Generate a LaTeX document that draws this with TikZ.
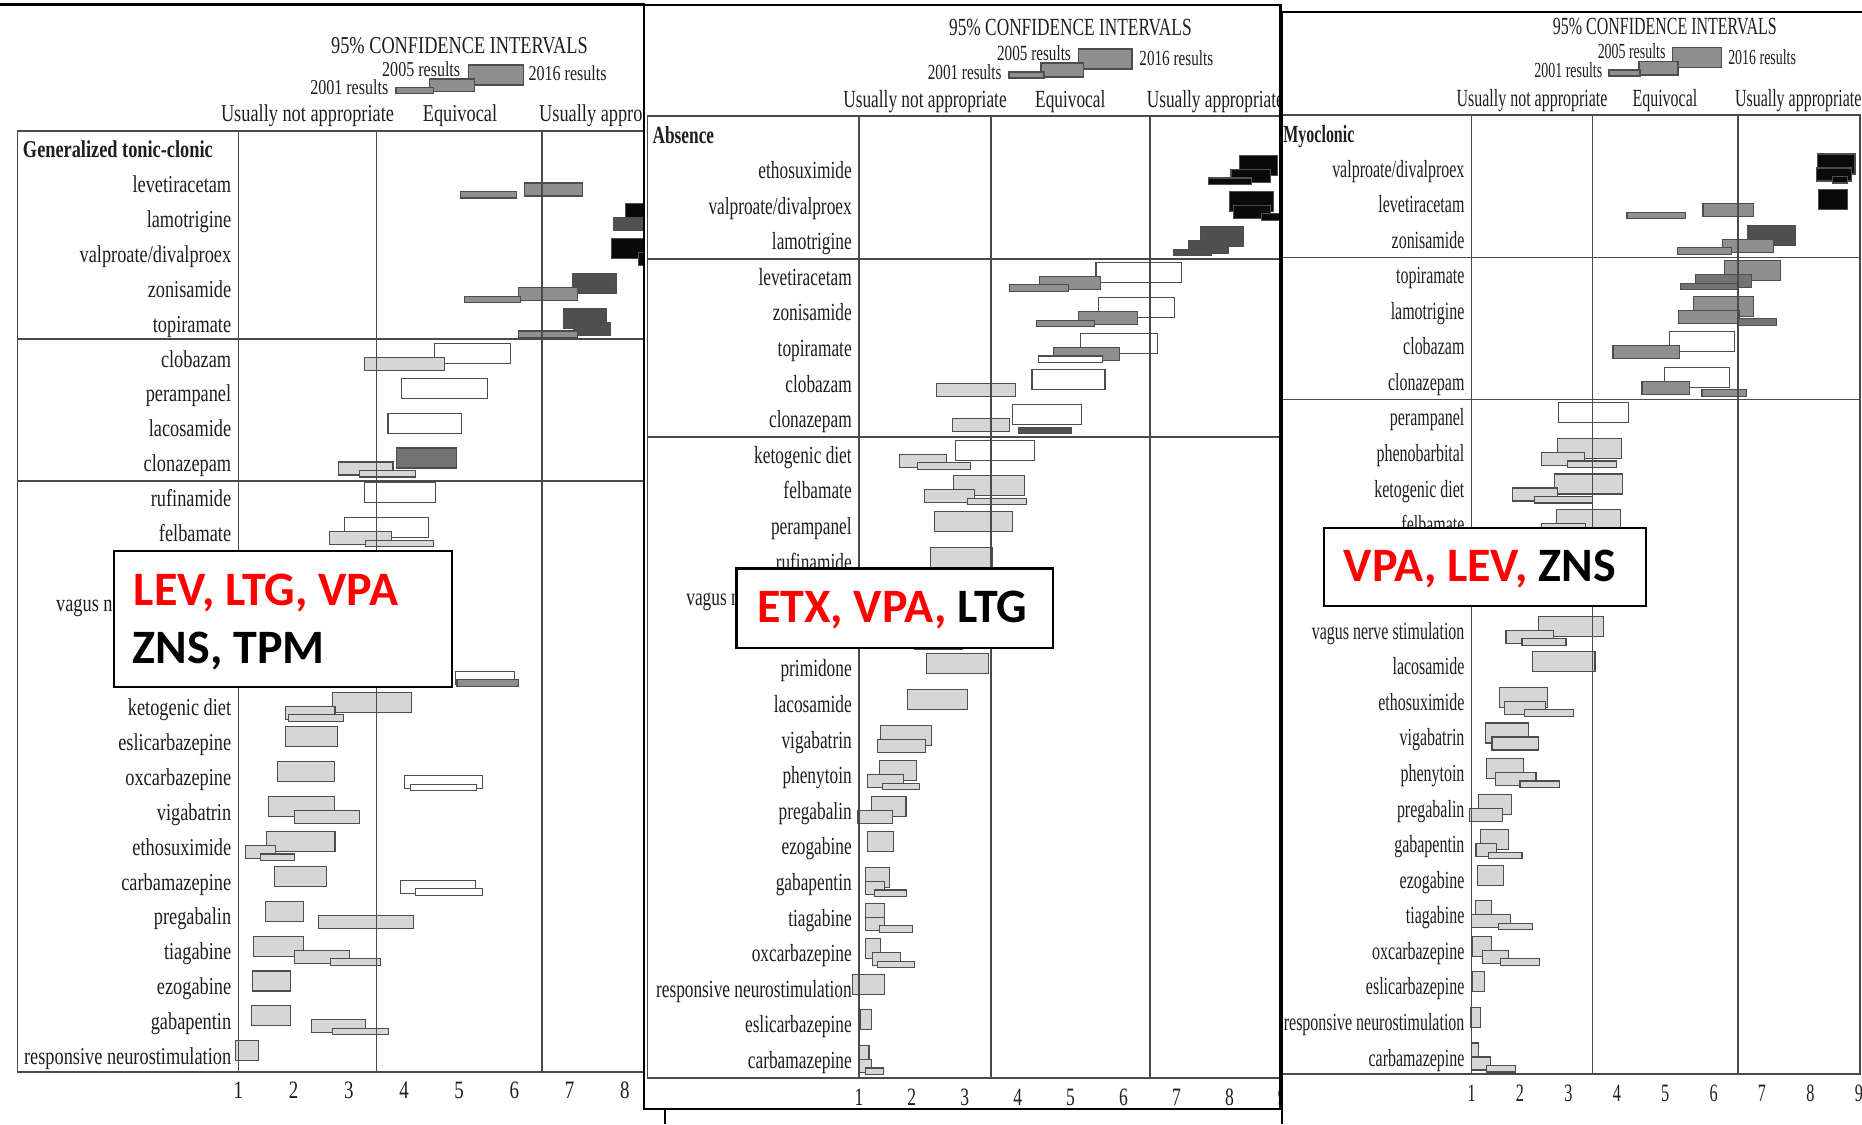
\documentclass[tikz,border=0pt]{standalone}
\usepackage{fontspec}
\setmainfont{Liberation Serif}
\newfontfamily\fA[FakeStretch=0.757]{Liberation Serif}
\newfontfamily\fB[FakeStretch=0.702]{Liberation Serif}
\newfontfamily\fC[FakeStretch=0.648]{Liberation Serif}
\newfontfamily\ovfont{Carlito}
\definecolor{txt}{HTML}{1E1E1E}
\definecolor{grid}{HTML}{4A4A4A}
\definecolor{baredge}{HTML}{4D4D4D}
\definecolor{blk}{HTML}{0A0A0A}
\definecolor{dk}{HTML}{505050}
\definecolor{mdk}{HTML}{737373}
\definecolor{md}{HTML}{8F8F8F}
\definecolor{lt}{HTML}{D6D6D6}
\definecolor{ovred}{HTML}{FF0000}
\tikzset{
 lbl/.style={anchor=base east, inner sep=0pt, text=txt},
 hd/.style={anchor=base, inner sep=0pt, text=txt},
 hdw/.style={anchor=base west, inner sep=0pt, text=txt},
 barl/.style={draw=baredge, line width=1.1pt},
 gridl/.style={draw=grid, line width=1.6pt},
 frame/.style={draw=black, line width=2.2pt},
 ovbox/.style={draw=black, line width=2.4pt, fill=white},
 ovtxt/.style={anchor=base west, inner sep=0pt, font=\ovfont\bfseries\fontsize{48}{48}\selectfont},
}
\newcommand\dlab[3]{\node[lbl] (#1) at ({\PXo-7},{\PYl+\PYd*(#2-1)}) {#3};}
\newcommand\bA[4]{\draw[barl,fill=#4] ({\PXo+\PXs*(#2-1)},{\PYb+\PYd*(#1-1)-16}) rectangle ({\PXo+\PXs*(#3-1)},{\PYb+\PYd*(#1-1)+4});}
\newcommand\bB[4]{\draw[barl,fill=#4] ({\PXo+\PXs*(#2-1)},{\PYb+\PYd*(#1-1)-2}) rectangle ({\PXo+\PXs*(#3-1)},{\PYb+\PYd*(#1-1)+11});}
\newcommand\bC[4]{\draw[barl,fill=#4] ({\PXo+\PXs*(#2-1)},{\PYb+\PYd*(#1-1)+6.5}) rectangle ({\PXo+\PXs*(#3-1)},{\PYb+\PYd*(#1-1)+13});}
\begin{document}
\begin{tikzpicture}[x=1pt,y=-1pt]
\useasboundingbox (0,0) rectangle (1862,1124);
\fill[white] (0,0) rectangle (1862,1124);

%%%%%%%%%%%%%%%% PANEL 1
\begin{scope}[every node/.append style={font=\fA\fontsize{24.2}{24.2}\selectfont}]
\def\PXo{238.4}\def\PXs{55.2}\def\PYb{185}\def\PYl{192.7}\def\PYd{34.87}
\draw[frame] (0,4.5) -- (645,4.5);
\node[hd] (p1title) at (459.5,53.3) {95\% CONFIDENCE INTERVALS};
\node[hd,font=\fA\fontsize{21.2}{21.2}\selectfont] (p1l05) at (421.2,76) {2005 results};
\node[hd,font=\fA\fontsize{21.2}{21.2}\selectfont] (p1l16) at (567.6,81) {2016 results};
\node[hd,font=\fA\fontsize{21.2}{21.2}\selectfont] (p1l01) at (349.3,94) {2001 results};
\draw[barl,fill=md] (468.5,65) rectangle (523.2,85);
\draw[barl,fill=md] (429.1,79) rectangle (474.7,91.7);
\draw[barl,fill=md] (396,87.3) rectangle (433.3,93.3);
\node[hd] (p1c1) at (307.5,121.7) {Usually not appropriate};
\node[hd] (p1c2) at (460,121.7) {Equivocal};
\node[hdw] (p1c3) at (539,121.7) {Usually appropriate};
% bars
\bB{1}{6.19}{7.24}{md} \bC{1}{5.02}{6.03}{md}
\bA{2}{8.02}{9}{blk} \bB{2}{7.80}{9}{dk}
\bA{3}{7.76}{9}{blk} \bB{3}{8.24}{9}{blk}
\bA{4}{7.06}{7.84}{dk} \bB{4}{6.07}{7.15}{md} \bC{4}{5.10}{6.11}{md}
\bA{5}{6.89}{7.66}{dk} \bB{5}{7.08}{7.74}{dk} \bC{5}{6.07}{7.15}{md}
\bA{6}{4.55}{5.93}{white} \bB{6}{3.29}{4.73}{lt}
\bA{7}{3.95}{5.51}{white}
\bA{8}{3.71}{5.04}{white}
\bA{9}{3.86}{4.95}{mdk} \bB{9}{2.82}{3.80}{lt} \bC{9}{3.20}{4.21}{lt}
\bA{10}{3.28}{4.57}{white}
\bA{11}{2.93}{4.44}{white} \bB{11}{2.65}{3.78}{lt} \bC{11}{3.31}{4.53}{lt}
\bB{15}{4.94}{6.00}{white} \bC{15}{4.96}{6.07}{md}
\bA{16}{2.71}{4.13}{lt} \bB{16}{1.86}{2.75}{lt} \bC{16}{1.90}{2.91}{lt}
\bA{17}{1.86}{2.80}{lt}
\bA{18}{1.71}{2.74}{lt} \bB{18}{4.01}{5.42}{white} \bC{18}{4.12}{5.32}{white}
\bA{19}{1.54}{2.74}{lt} \bB{19}{2.01}{3.20}{lt}
\bA{20}{1.51}{2.75}{lt} \bB{20}{1.13}{1.68}{lt} \bC{20}{1.40}{2.02}{lt}
\bA{21}{1.65}{2.60}{lt} \bB{21}{3.93}{5.29}{white} \bC{21}{4.21}{5.42}{white}
\bA{22}{1.49}{2.18}{lt} \bB{22}{2.45}{4.18}{lt}
\bA{23}{1.28}{2.18}{lt} \bB{23}{2.01}{3.01}{lt} \bC{23}{2.67}{3.57}{lt}
\bA{24}{1.25}{1.94}{lt}
\bA{25}{1.24}{1.95}{lt} \bB{25}{2.32}{3.31}{lt} \bC{25}{2.71}{3.72}{lt}
\bA{26}{0.95}{1.37}{lt}
% table
\draw[gridl] (17.4,130.7) rectangle (680,1072);
\draw[gridl] (17.4,339) -- (680,339);
\draw[gridl] (17.4,481) -- (680,481);
\foreach \v in {1,3.5,6.5} \draw[gridl] ({\PXo+\PXs*(\v-1)},130.7) -- ({\PXo+\PXs*(\v-1)},1072);
\node[hdw,font=\fA\bfseries\fontsize{24.2}{24.2}\selectfont] (p1g) at (22.8,157.3) {Generalized tonic-clonic};
\dlab{p1r1}{1}{levetiracetam}
\dlab{p1r2}{2}{lamotrigine}
\dlab{p1r3}{3}{valproate/divalproex}
\dlab{p1r4}{4}{zonisamide}
\dlab{p1r5}{5}{topiramate}
\dlab{p1r6}{6}{clobazam}
\dlab{p1r7}{7}{perampanel}
\dlab{p1r8}{8}{lacosamide}
\dlab{p1r9}{9}{clonazepam}
\dlab{p1r10}{10}{rufinamide}
\dlab{p1r11}{11}{felbamate}
\dlab{p1r13}{13}{vagus nerve stimulation}
\dlab{p1r16}{16}{ketogenic diet}
\dlab{p1r17}{17}{eslicarbazepine}
\dlab{p1r18}{18}{oxcarbazepine}
\dlab{p1r19}{19}{vigabatrin}
\dlab{p1r20}{20}{ethosuximide}
\dlab{p1r21}{21}{carbamazepine}
\dlab{p1r22}{22}{pregabalin}
\dlab{p1r23}{23}{tiagabine}
\dlab{p1r24}{24}{ezogabine}
\dlab{p1r25}{25}{gabapentin}
\dlab{p1r26}{26}{responsive neurostimulation}
\foreach \v in {1,...,9} \node[hd,font=\fA\fontsize{25}{25}\selectfont] (p1t\v) at ({\PXo+\PXs*(\v-1)},1098.3) {\v};
% overlay box
\node[ovbox,minimum width=337.9pt,minimum height=135.7pt,inner sep=0pt,anchor=north west] (ov1) at (112.8,550) {};
\node[ovtxt,text=ovred] (ov1a) at (133.5,605) {LEV, LTG, VPA};
\node[ovtxt,text=black] (ov1b) at (132.7,663.3) {ZNS, TPM};
\end{scope}

%%%%%%%%%%%%%%%% PANEL 2
\begin{scope}[every node/.append style={font=\fB\fontsize{24.65}{24.65}\selectfont}]
\def\PXo{858.9}\def\PXs{52.93}\def\PYb{171.5}\def\PYl{178.5}\def\PYd{35.6}
\fill[white] (644,5) rectangle (1281,1109);
\node[hd] (p2title) at (1070.4,36) {95\% CONFIDENCE INTERVALS};
\node[hd,font=\fB\fontsize{21.6}{21.6}\selectfont] (p2l05) at (1034,60) {2005 results};
\node[hd,font=\fB\fontsize{21.6}{21.6}\selectfont] (p2l16) at (1176.3,66) {2016 results};
\node[hd,font=\fB\fontsize{21.6}{21.6}\selectfont] (p2l01) at (964.7,79) {2001 results};
\draw[barl,fill=md] (1078.6,49) rectangle (1132,69);
\draw[barl,fill=md] (1041,63) rectangle (1083.6,77);
\draw[barl,fill=md] (1009,72) rectangle (1044,78);
\node[hd] (p2c1) at (925,107.3) {Usually not appropriate};
\node[hd] (p2c2) at (1070.3,107.3) {Equivocal};
\node[hdw] (p2c3) at (1146.6,107.3) {Usually appropriate};
% bars
\bA{1}{8.19}{8.90}{blk} \bB{1}{8.03}{8.77}{blk} \bC{1}{7.60}{8.42}{blk}
\bA{2}{8.00}{8.84}{blk} \bB{2}{8.07}{8.77}{blk} \bC{2}{8.60}{9.00}{blk}
\bA{3}{7.45}{8.26}{dk} \bB{3}{7.22}{7.99}{dk} \bC{3}{6.95}{7.66}{dk}
\bA{4}{5.48}{7.10}{white} \bB{4}{4.42}{5.57}{md} \bC{4}{3.85}{4.96}{md}
\bA{5}{5.52}{6.97}{white} \bB{5}{5.15}{6.26}{md} \bC{5}{4.35}{5.45}{md}
\bA{6}{5.18}{6.64}{white} \bB{6}{4.68}{5.93}{md} \bC{6}{4.40}{5.61}{white}
\bA{7}{4.27}{5.65}{white} \bB{7}{2.46}{3.95}{lt}
\bA{8}{3.90}{5.21}{white} \bB{8}{2.76}{3.84}{lt} \bC{8}{4.01}{5.01}{dk}
\bA{9}{2.83}{4.31}{white} \bB{9}{1.76}{2.65}{lt} \bC{9}{2.10}{3.11}{lt}
\bA{10}{2.79}{4.13}{lt} \bB{10}{2.24}{3.18}{lt} \bC{10}{3.05}{4.16}{lt}
\bA{11}{2.43}{3.91}{lt}
\bA{12}{2.35}{3.52}{lt}
\draw[barl,fill=lt] ({\PXo+\PXs*1.05},634) rectangle ({\PXo+\PXs*1.95},649);
\bA{15}{2.28}{3.44}{lt}
\bA{16}{1.92}{3.06}{lt}
\bA{17}{1.41}{2.37}{lt} \bB{17}{1.35}{2.26}{lt}
\bA{18}{1.39}{2.09}{lt} \bB{18}{1.16}{1.85}{lt} \bC{18}{1.45}{2.15}{lt}
\bA{19}{1.23}{1.89}{lt} \bB{19}{0.98}{1.63}{lt}
\bA{20}{1.16}{1.66}{lt}
\bA{21}{1.12}{1.58}{lt} \bB{21}{1.12}{1.49}{lt} \bC{21}{1.30}{1.90}{lt}
\bA{22}{1.12}{1.49}{lt} \bB{22}{1.12}{1.49}{lt} \bC{22}{1.39}{2.01}{lt}
\bA{23}{1.12}{1.41}{lt} \bB{23}{1.25}{1.78}{lt} \bC{23}{1.35}{2.05}{lt}
\bA{24}{0.88}{1.49}{lt}
\bA{25}{1.02}{1.23}{lt}
\bA{26}{1.00}{1.19}{lt} \bB{26}{1.00}{1.23}{lt} \bC{26}{1.13}{1.46}{lt}
% table
\draw[gridl] (647.5,116) rectangle (1281,1078);
\draw[gridl] (647.5,259) -- (1281,259);
\draw[gridl] (647.5,437) -- (1281,437);
\foreach \v in {1,3.5,6.5} \draw[gridl] ({\PXo+\PXs*(\v-1)},116) -- ({\PXo+\PXs*(\v-1)},1078);
\node[hdw,font=\fB\bfseries\fontsize{24.65}{24.65}\selectfont] (p2g) at (652.4,143.3) {Absence};
\dlab{p2r1}{1}{ethosuximide}
\dlab{p2r2}{2}{valproate/divalproex}
\dlab{p2r3}{3}{lamotrigine}
\dlab{p2r4}{4}{levetiracetam}
\dlab{p2r5}{5}{zonisamide}
\dlab{p2r6}{6}{topiramate}
\dlab{p2r7}{7}{clobazam}
\dlab{p2r8}{8}{clonazepam}
\dlab{p2r9}{9}{ketogenic diet}
\dlab{p2r10}{10}{felbamate}
\dlab{p2r11}{11}{perampanel}
\dlab{p2r12}{12}{rufinamide}
\dlab{p2r13}{13}{vagus nerve stimulation}
\dlab{p2r15}{15}{primidone}
\dlab{p2r16}{16}{lacosamide}
\dlab{p2r17}{17}{vigabatrin}
\dlab{p2r18}{18}{phenytoin}
\dlab{p2r19}{19}{pregabalin}
\dlab{p2r20}{20}{ezogabine}
\dlab{p2r21}{21}{gabapentin}
\dlab{p2r22}{22}{tiagabine}
\dlab{p2r23}{23}{oxcarbazepine}
\dlab{p2r24}{24}{responsive neurostimulation}
\dlab{p2r25}{25}{eslicarbazepine}
\dlab{p2r26}{26}{carbamazepine}
\foreach \v in {1,...,9} \node[hd,font=\fB\fontsize{25}{25}\selectfont] (p2t\v) at ({\PXo+\PXs*(\v-1)},1105) {\v};
\node[ovbox,minimum width=316.3pt,minimum height=79.4pt,inner sep=0pt,anchor=north west] (ov2) at (735.4,567.3) {};
\node[ovtxt] (ov2a) at (756.9,622.7) {\textcolor{ovred}{ETX, VPA,} LTG};
\draw[frame] (644,5) rectangle (1280.5,1109);
\draw[frame] (665,1109) -- (665,1124);
\end{scope}

%%%%%%%%%%%%%%%% PANEL 3
\begin{scope}[every node/.append style={font=\fC\fontsize{24.65}{24.65}\selectfont}]
\def\PXo{1471.6}\def\PXs{48.4}\def\PYb{170}\def\PYl{177}\def\PYd{35.56}
\fill[white] (1281.7,11.7) rectangle (1862,1124);
\node[hd] (p3title) at (1664.8,35) {95\% CONFIDENCE INTERVALS};
\node[hd,font=\fC\fontsize{21.5}{21.5}\selectfont] (p3l05) at (1631.6,59) {2005 results};
\node[hd,font=\fC\fontsize{21.5}{21.5}\selectfont] (p3l16) at (1762.1,65) {2016 results};
\node[hd,font=\fC\fontsize{21.5}{21.5}\selectfont] (p3l01) at (1568.3,77.7) {2001 results};
\draw[barl,fill=md] (1672.6,47.7) rectangle (1721.3,67.7);
\draw[barl,fill=md] (1639,61.7) rectangle (1678,75);
\draw[barl,fill=md] (1609,70) rectangle (1640,76);
\node[hd] (p3c1) at (1532,106) {Usually not appropriate};
\node[hd] (p3c2) at (1664.9,106) {Equivocal};
\node[hdw] (p3c3) at (1734.8,106) {Usually appropriate};
% bars
\bA{1}{8.14}{8.92}{blk} \bB{1}{8.12}{8.85}{blk} \bC{1}{8.46}{8.77}{blk}
\bA{2}{8.17}{8.76}{blk} \bB{2}{5.78}{6.82}{md} \bC{2}{4.21}{5.41}{md}
\bA{3}{6.70}{7.69}{dk} \bB{3}{6.18}{7.23}{md} \bC{3}{5.25}{6.37}{md}
\bA{4}{6.22}{7.38}{md} \bB{4}{5.62}{6.79}{mdk} \bC{4}{5.31}{6.51}{mdk}
\bA{5}{5.58}{6.82}{md} \bB{5}{5.27}{6.53}{md} \bC{5}{6.50}{7.30}{mdk}
\bA{6}{5.08}{6.44}{white} \bB{6}{3.92}{5.29}{md}
\bA{7}{4.98}{6.32}{white} \bB{7}{4.52}{5.50}{md} \bC{7}{5.76}{6.67}{md}
\bA{8}{2.79}{4.25}{white}
\bA{9}{2.78}{4.09}{lt} \bB{9}{2.45}{3.34}{lt} \bC{9}{2.99}{4.00}{lt}
\bA{10}{2.72}{4.12}{lt} \bB{10}{1.84}{2.77}{lt} \bC{10}{2.30}{3.50}{lt}
\bA{11}{2.75}{4.08}{lt} \bB{11}{2.45}{3.35}{lt}
\bA{14}{2.38}{3.73}{lt} \bB{14}{1.71}{2.69}{lt} \bC{14}{2.04}{2.95}{lt}
\bA{15}{2.25}{3.55}{lt}
\bA{16}{1.58}{2.56}{lt} \bB{16}{1.67}{2.53}{lt} \bC{16}{2.10}{3.10}{lt}
\bA{17}{1.29}{2.18}{lt} \bB{17}{1.42}{2.38}{lt}
\bA{18}{1.31}{2.07}{lt} \bB{18}{1.49}{2.33}{lt} \bC{18}{2.00}{2.82}{lt}
\bA{19}{1.14}{1.83}{lt} \bB{19}{0.96}{1.64}{lt}
\bA{20}{1.18}{1.76}{lt} \bB{20}{1.09}{1.52}{lt} \bC{20}{1.35}{2.04}{lt}
\bA{21}{1.12}{1.66}{lt}
\bA{22}{1.08}{1.41}{lt} \bB{22}{1.00}{1.80}{lt} \bC{22}{1.56}{2.25}{lt}
\bA{23}{1.01}{1.41}{lt} \bB{23}{1.23}{1.77}{lt} \bC{23}{1.60}{2.41}{lt}
\bA{24}{1.01}{1.27}{lt}
\bA{25}{0.98}{1.18}{lt}
\bA{26}{1.00}{1.15}{lt} \bB{26}{1.00}{1.39}{lt} \bC{26}{1.31}{1.91}{lt}
% table
\draw[gridl] (1281.7,115) rectangle (1859.8,1074);
\draw[gridl] (1281.7,257.3) -- (1859.8,257.3);
\draw[gridl] (1281.7,399.3) -- (1859.8,399.3);
\foreach \v in {1,3.5,6.5} \draw[gridl] ({\PXo+\PXs*(\v-1)},115) -- ({\PXo+\PXs*(\v-1)},1074);
\node[hdw,font=\fC\bfseries\fontsize{24.65}{24.65}\selectfont] (p3g) at (1283.2,142) {Myoclonic};
\dlab{p3r1}{1}{valproate/divalproex}
\dlab{p3r2}{2}{levetiracetam}
\dlab{p3r3}{3}{zonisamide}
\dlab{p3r4}{4}{topiramate}
\dlab{p3r5}{5}{lamotrigine}
\dlab{p3r6}{6}{clobazam}
\dlab{p3r7}{7}{clonazepam}
\dlab{p3r8}{8}{perampanel}
\dlab{p3r9}{9}{phenobarbital}
\dlab{p3r10}{10}{ketogenic diet}
\dlab{p3r11}{11}{felbamate}
\dlab{p3r14}{14}{vagus nerve stimulation}
\dlab{p3r15}{15}{lacosamide}
\dlab{p3r16}{16}{ethosuximide}
\dlab{p3r17}{17}{vigabatrin}
\dlab{p3r18}{18}{phenytoin}
\dlab{p3r19}{19}{pregabalin}
\dlab{p3r20}{20}{gabapentin}
\dlab{p3r21}{21}{ezogabine}
\dlab{p3r22}{22}{tiagabine}
\dlab{p3r23}{23}{oxcarbazepine}
\dlab{p3r24}{24}{eslicarbazepine}
\dlab{p3r25}{25}{responsive neurostimulation}
\dlab{p3r26}{26}{carbamazepine}
\foreach \v in {1,...,9} \node[hd,font=\fC\fontsize{25}{25}\selectfont] (p3t\v) at ({\PXo+\PXs*(\v-1)},1101.7) {\v};
\node[ovbox,minimum width=322pt,minimum height=78.3pt,inner sep=0pt,anchor=north west] (ov3) at (1322.9,526.7) {};
\node[ovtxt] (ov3a) at (1343.5,581.7) {\textcolor{ovred}{VPA, LEV,} ZNS};
\draw[frame] (1281.7,1124) -- (1281.7,11.7) -- (1862,11.7);
\end{scope}
\end{tikzpicture}
\end{document}
